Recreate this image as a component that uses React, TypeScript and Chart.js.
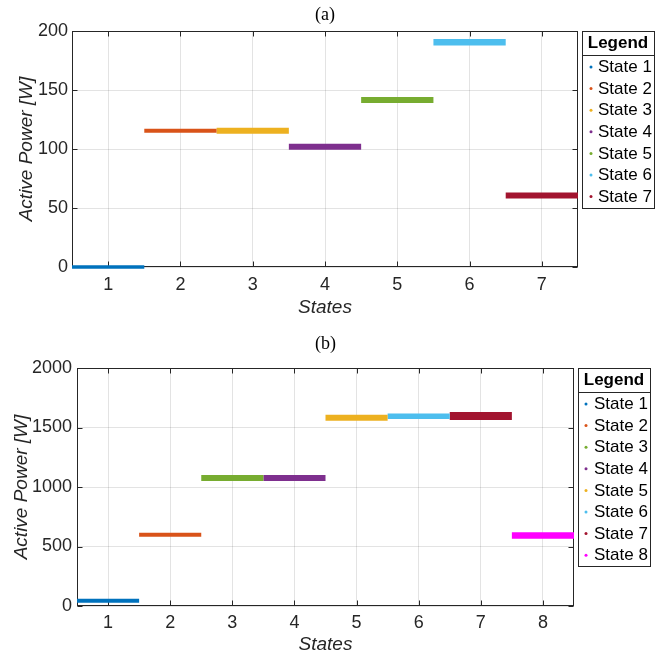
import React, { useEffect, useRef } from "react";
import { Chart, registerables } from "chart.js";

Chart.register(...registerables);

// ---------- Data ----------
const STATES_A = ["State 1", "State 2", "State 3", "State 4", "State 5", "State 6", "State 7"];
const POWER_A = [0, 115.5, 115.5, 102, 141.5, 190.5, 60.5];
const X_TICKS_A = [1, 2, 3, 4, 5, 6, 7];
const Y_TICKS_A = [0, 50, 100, 150, 200];

const STATES_B = ["State 1", "State 2", "State 3", "State 4", "State 5", "State 6", "State 7", "State 8"];
const POWER_B = [45, 598, 1076, 1075, 1581, 1594, 1597, 592];
const X_TICKS_B = [1, 2, 3, 4, 5, 6, 7, 8];
const Y_TICKS_B = [0, 500, 1000, 1500, 2000];

// ---------- Styles ----------
const C_BLUE = "#0072BD";
const C_ORANGE = "#D95319";
const C_YELLOW = "#EDB120";
const C_PURPLE = "#7E2F8E";
const C_GREEN = "#77AC30";
const C_CYAN = "#4DBEEE";
const C_RED = "#A2142F";
const C_MAGENTA = "#FF00FF";

const COLORS_A = [C_BLUE, C_ORANGE, C_YELLOW, C_PURPLE, C_GREEN, C_CYAN, C_RED];
const COLORS_B = [C_BLUE, C_ORANGE, C_GREEN, C_PURPLE, C_YELLOW, C_CYAN, C_RED, C_MAGENTA];
const BAND_A = [3.6, 4, 6, 6, 6, 6.5, 6];
const BAND_B = [4, 4, 6, 6, 6, 5.5, 8, 6.5];

const AXIS_COLOR = "#262626";
const GRID_COLOR = "rgba(38,38,38,0.13)";
const SANS = "'Liberation Sans', Arial, Helvetica, sans-serif";
const SERIF = "'Liberation Serif', 'Times New Roman', serif";

const decorPlugin = {
  id: "decor",
  beforeDatasetsDraw(chart: any) {
    const { ctx, chartArea: a, scales } = chart;
    const L = Math.round(a.left) + 0.5;
    const R = Math.round(a.right) - 0.5;
    const T = Math.round(a.top) + 0.5;
    const B = Math.round(a.bottom) - 0.5;
    ctx.save();
    ctx.strokeStyle = AXIS_COLOR;
    ctx.lineWidth = 1;
    ctx.strokeRect(L, T, R - L, B - T);
    const tl = 5;
    ctx.beginPath();
    for (const t of scales.x.ticks) {
      const px = Math.round(scales.x.getPixelForValue(t.value)) + 0.5;
      ctx.moveTo(px, B);
      ctx.lineTo(px, B - tl);
      ctx.moveTo(px, T);
      ctx.lineTo(px, T + tl);
    }
    for (const t of scales.y.ticks) {
      const py = Math.round(scales.y.getPixelForValue(t.value)) + 0.5;
      ctx.moveTo(L, py);
      ctx.lineTo(L + tl, py);
      ctx.moveTo(R, py);
      ctx.lineTo(R - tl, py);
    }
    ctx.stroke();
    ctx.restore();
  },
  afterDraw(chart: any, _args: any, opts: any) {
    const { ctx, chartArea: a } = chart;
    ctx.save();
    // panel title
    ctx.fillStyle = "#000";
    ctx.font = `18px ${SERIF}`;
    ctx.textAlign = "center";
    ctx.textBaseline = "middle";
    ctx.fillText(opts.title, (a.left + a.right) / 2, opts.titleY);

    // legend box
    const labels: string[] = opts.labels;
    const colors: string[] = opts.colors;
    const bx = Math.round(a.right) + 4;
    const by = Math.round(a.top);
    const bw = 72;
    const headH = 23.5;
    const rowH = 21.6;
    const bh = Math.round(headH + 12.5 + (labels.length - 1) * rowH + 11);
    ctx.fillStyle = "#fff";
    ctx.fillRect(bx, by, bw, bh);
    ctx.strokeStyle = AXIS_COLOR;
    ctx.lineWidth = 1;
    ctx.strokeRect(bx + 0.5, by + 0.5, bw, bh);
    ctx.beginPath();
    ctx.moveTo(bx, Math.round(by + headH) + 0.5);
    ctx.lineTo(bx + bw, Math.round(by + headH) + 0.5);
    ctx.stroke();
    ctx.fillStyle = "#000";
    ctx.font = `bold 17px ${SANS}`;
    ctx.textAlign = "center";
    ctx.fillText("Legend", bx + bw / 2, by + headH / 2 + 0.5);
    ctx.font = `17px ${SANS}`;
    ctx.textAlign = "left";
    labels.forEach((lab, i) => {
      const y = by + headH + 12.5 + i * rowH;
      ctx.fillStyle = colors[i];
      ctx.beginPath();
      ctx.arc(bx + opts.dotDx, y, 1.5, 0, Math.PI * 2);
      ctx.fill();
      ctx.fillStyle = "#000";
      ctx.fillText(lab, bx + opts.textDx, y + 0.5);
    });
    ctx.restore();
  },
};

function makeConfig(p: {
  states: string[];
  power: number[];
  colors: string[];
  band: number[];
  xTicks: number[];
  yTicks: number[];
  yMax: number;
  title: string;
  titleY: number;
  padding: { top: number; right: number; bottom: number; left: number };
  yAxisWidth: number;
  xAxisHeight: number;
  yTitlePad: number;
  yTickPad: number;
  xTickPad: number;
  dotDx: number;
  textDx: number;
}) {
  const datasets = p.states.map((name, i) => {
    const x = p.xTicks[i];
    return {
      label: name,
      data: [
        { x: x - 0.5, y: p.power[i] },
        { x: x + 0.5, y: p.power[i] },
      ],
      borderColor: p.colors[i],
      backgroundColor: p.colors[i],
      borderWidth: p.band[i],
      pointRadius: 0,
      fill: false,
      clip: { left: 0, right: 0, top: 10, bottom: 10 },
    };
  });
  return {
    type: "line",
    data: { datasets },
    options: {
      animation: false,
      responsive: false,
      devicePixelRatio: 1,
      layout: { padding: p.padding },
      plugins: {
        legend: { display: false },
        title: { display: false },
        tooltip: { enabled: false },
        decor: { title: p.title, titleY: p.titleY, labels: p.states, colors: p.colors, dotDx: p.dotDx, textDx: p.textDx },
      },
      scales: {
        x: {
          type: "linear",
          min: 0.5,
          max: p.xTicks[p.xTicks.length - 1] + 0.5,
          afterBuildTicks: (s: any) => {
            s.ticks = p.xTicks.map((v) => ({ value: v }));
          },
          afterFit: (s: any) => {
            s.height = p.xAxisHeight;
          },
          grid: { color: GRID_COLOR, drawTicks: false },
          border: { display: false },
          ticks: {
            color: AXIS_COLOR,
            font: { family: SANS, size: 18 },
            padding: p.xTickPad,
            maxRotation: 0,
            callback: (v: any) => String(v),
          },
          title: {
            display: true,
            text: "States",
            color: AXIS_COLOR,
            font: { family: SANS, size: 19, style: "italic" },
            padding: { top: 0, bottom: 0 },
          },
        },
        y: {
          type: "linear",
          min: 0,
          max: p.yMax,
          afterBuildTicks: (s: any) => {
            s.ticks = p.yTicks.map((v) => ({ value: v }));
          },
          afterFit: (s: any) => {
            s.width = p.yAxisWidth;
          },
          grid: { color: GRID_COLOR, drawTicks: false },
          border: { display: false },
          ticks: {
            color: AXIS_COLOR,
            font: { family: SANS, size: 18 },
            padding: p.yTickPad,
            callback: (v: any) => String(v),
          },
          title: {
            display: true,
            text: "Active Power [W]",
            color: AXIS_COLOR,
            font: { family: SANS, size: 19, style: "italic" },
            padding: { top: p.yTitlePad, bottom: 0 },
          },
        },
      },
    },
    plugins: [decorPlugin],
  } as any;
}

function Panel({ config }: { config: any }) {
  const ref = useRef<HTMLCanvasElement | null>(null);
  useEffect(() => {
    if (!ref.current) return;
    const chart = new Chart(ref.current, config);
    return () => chart.destroy();
  }, [config]);
  return <canvas ref={ref} width={662} height={329} style={{ display: "block", width: 662, height: 329 }} />;
}

const CONFIG_A = makeConfig({
  states: STATES_A,
  power: POWER_A,
  colors: COLORS_A,
  band: BAND_A,
  xTicks: X_TICKS_A,
  yTicks: Y_TICKS_A,
  yMax: 200,
  title: "(a)",
  titleY: 15,
  padding: { top: 31, right: 84, bottom: 10, left: 0 },
  yAxisWidth: 72,
  xAxisHeight: 52,
  yTitlePad: 15.6,
  yTickPad: 4,
  xTickPad: 7,
  dotDx: 9,
  textDx: 16,
});

const CONFIG_B = makeConfig({
  states: STATES_B,
  power: POWER_B,
  colors: COLORS_B,
  band: BAND_B,
  xTicks: X_TICKS_B,
  yTicks: Y_TICKS_B,
  yMax: 2000,
  title: "(b)",
  titleY: 15,
  padding: { top: 39, right: 88, bottom: 2, left: 0 },
  yAxisWidth: 77,
  xAxisHeight: 50,
  yTitlePad: 10.6,
  yTickPad: 5,
  xTickPad: 6,
  dotDx: 8,
  textDx: 16,
});

export default function App() {
  return (
    <div style={{ position: "absolute", left: 0, top: 0, width: 662, height: 658, background: "#fff" }}>
      <Panel config={CONFIG_A} />
      <Panel config={CONFIG_B} />
    </div>
  );
}
